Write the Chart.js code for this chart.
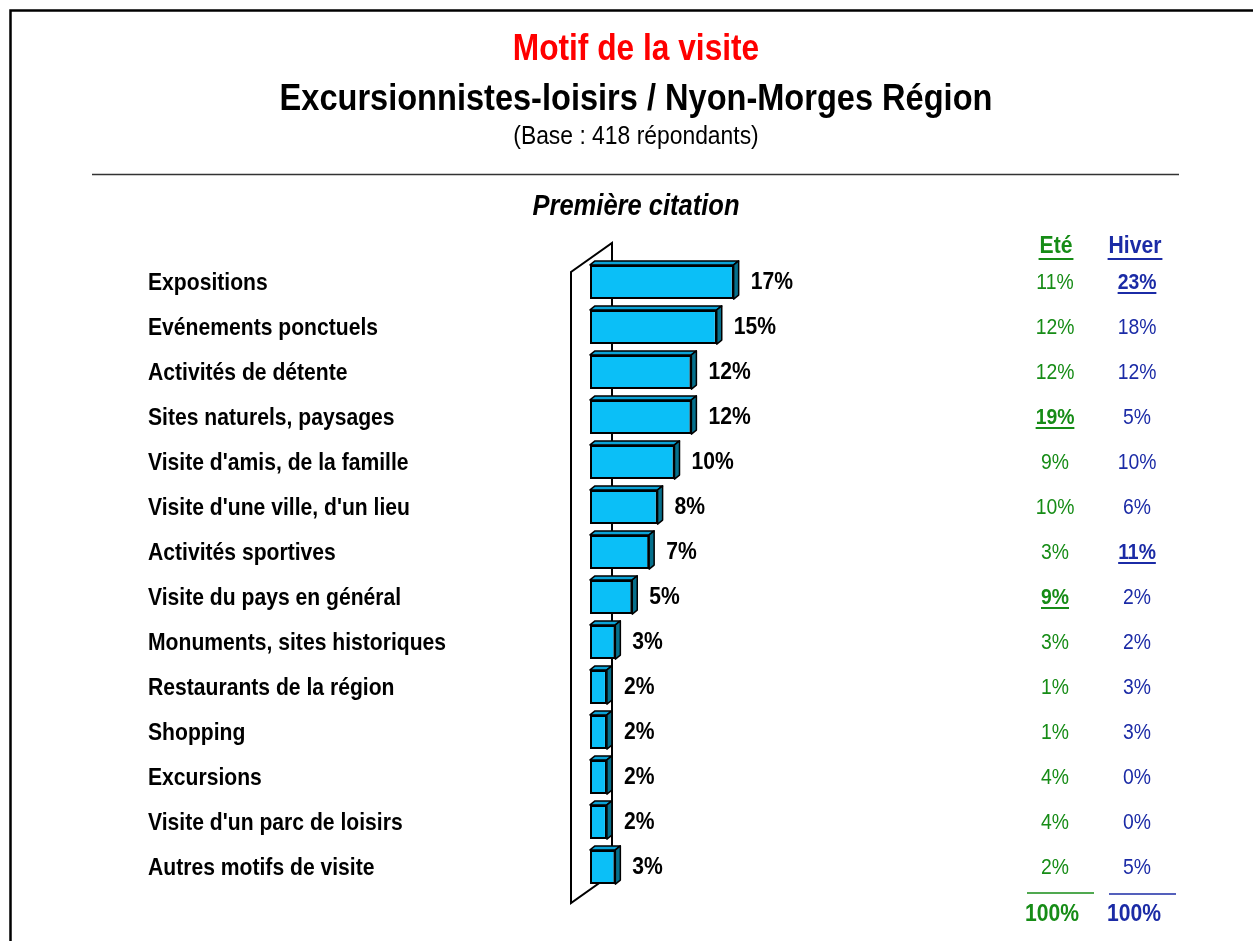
<!DOCTYPE html>
<html lang="fr">
<head>
<meta charset="utf-8">
<title>Motif de la visite</title>
<script src="https://cdn.jsdelivr.net/npm/chart.js@4/dist/chart.umd.min.js"></script>
<style>
  html, body { margin: 0; padding: 0; background: #fff; }
  #wrap { width: 1253px; height: 941px; }
</style>
</head>
<body>
<div id="wrap"><canvas id="motifChart" width="1253" height="941"></canvas></div>
<script>
// ---------------------
// DATA
// ---------------------
const motifs = [
  "Expositions",
  "Evénements ponctuels",
  "Activités de détente",
  "Sites naturels, paysages",
  "Visite d'amis, de la famille",
  "Visite d'une ville, d'un lieu",
  "Activités sportives",
  "Visite du pays en général",
  "Monuments, sites historiques",
  "Restaurants de la région",
  "Shopping",
  "Excursions",
  "Visite d'un parc de loisirs",
  "Autres motifs de visite",
];
const totalPct = [17, 15, 12, 12, 10, 8, 7, 5, 3, 2, 2, 2, 2, 3];
const etePct = [11, 12, 12, 19, 9, 10, 3, 9, 3, 1, 1, 4, 4, 2];
const hiverPct = [23, 18, 12, 5, 10, 6, 11, 2, 2, 3, 3, 0, 0, 5];
// significant differences, shown bold + underlined
const eteMarked = [false, false, false, true, false, false, false, true, false, false, false, false, false, false];
const hiverMarked = [true, false, false, false, false, false, true, false, false, false, false, false, false, false];
const columnTotals = ["100%", "100%"];

const GREEN = "#168c16";
const BLUE = "#1b2ba6";
const FONT = "'Liberation Sans', Arial, sans-serif";
const NARROW = 0.88; // horizontal squeeze for all texts

// draw a squeezed text, returns its drawn width
function drawText(ctx, str, x, y, font, color, align) {
  ctx.save();
  ctx.font = font;
  ctx.fillStyle = color;
  ctx.textBaseline = "middle";
  ctx.textAlign = align || "left";
  ctx.translate(x, y);
  ctx.scale(NARROW, 1);
  ctx.fillText(str, 0, 0);
  const w = ctx.measureText(str).width * NARROW;
  ctx.restore();
  return w;
}

function underline(ctx, cx, y, w, color) {
  ctx.save();
  ctx.strokeStyle = color;
  ctx.lineWidth = 2;
  ctx.beginPath();
  ctx.moveTo(cx - w / 2, y);
  ctx.lineTo(cx + w / 2, y);
  ctx.stroke();
  ctx.restore();
}

// ---------------------
// HEADER, FRAME, SIDE COLUMNS
// ---------------------
const decorPlugin = {
  id: "decor",
  beforeDraw(chart) {
    const ctx = chart.ctx;
    ctx.save();
    ctx.fillStyle = "#fff";
    ctx.fillRect(0, 0, chart.width, chart.height);

    // outer frame (top + left edges)
    ctx.strokeStyle = "#000";
    ctx.lineWidth = 2.5;
    ctx.beginPath();
    ctx.moveTo(10.5, chart.height);
    ctx.lineTo(10.5, 10.5);
    ctx.lineTo(chart.width, 10.5);
    ctx.stroke();

    // separator under the header
    ctx.strokeStyle = "#333";
    ctx.lineWidth = 1.5;
    ctx.beginPath();
    ctx.moveTo(92, 174.5);
    ctx.lineTo(1179, 174.5);
    ctx.stroke();
    ctx.restore();

    drawText(ctx, "Motif de la visite", 636, 50, "bold 36px " + FONT, "#ff0000", "center");
    drawText(ctx, "Excursionnistes-loisirs / Nyon-Morges Région", 636, 100, "bold 37px " + FONT, "#000", "center");
    drawText(ctx, "(Base : 418 répondants)", 636, 137, "26px " + FONT, "#000", "center");
    drawText(ctx, "Première citation", 636, 207, "italic bold 29px " + FONT, "#000", "center");
  },

  // the slanted back wall behind the bars
  beforeDatasetsDraw(chart) {
    const ctx = chart.ctx;
    const area = chart.chartArea;
    const x0 = chart.scales.x.getPixelForValue(0);
    const front = x0 - 19;
    const back = x0 + 22;
    ctx.save();
    ctx.strokeStyle = "#000";
    ctx.lineWidth = 2;
    ctx.lineJoin = "miter";
    ctx.beginPath();
    ctx.moveTo(back, area.bottom - 15.5);
    ctx.lineTo(back, area.top - 16.5);
    ctx.lineTo(front, area.top + 12.5);
    ctx.lineTo(front, area.bottom + 13.5);
    ctx.closePath();
    ctx.stroke();
    ctx.restore();
  },

  // 3D faces of the bars, value labels and the Eté / Hiver columns
  afterDatasetsDraw(chart) {
    const ctx = chart.ctx;
    const meta = chart.getDatasetMeta(0);
    const yScale = chart.scales.y;
    const dx = 5;
    const dy = -4;

    meta.data.forEach((bar, i) => {
      const { x, y, base, height } = bar.getProps(["x", "y", "base", "height"], true);
      const top = y - height / 2;
      const bottom = y + height / 2;
      ctx.save();
      ctx.strokeStyle = "#000";
      ctx.lineWidth = 1.5;
      ctx.lineJoin = "round";
      // top face
      ctx.fillStyle = "#0aa4d8";
      ctx.beginPath();
      ctx.moveTo(base, top);
      ctx.lineTo(base + dx, top + dy);
      ctx.lineTo(x + dx, top + dy);
      ctx.lineTo(x, top);
      ctx.closePath();
      ctx.fill();
      ctx.stroke();
      // side face
      ctx.fillStyle = "#06708c";
      ctx.beginPath();
      ctx.moveTo(x, top);
      ctx.lineTo(x + dx, top + dy);
      ctx.lineTo(x + dx, bottom + dy);
      ctx.lineTo(x, bottom);
      ctx.closePath();
      ctx.fill();
      ctx.stroke();
      ctx.restore();

      drawText(ctx, totalPct[i] + "%", x + 17, y, "bold 24px " + FONT, "#000", "left");
    });

    // category names on the left
    motifs.forEach((name, i) => {
      const y = yScale.getPixelForValue(i) + 1.5;
      drawText(ctx, name, 148, y, "bold 24px " + FONT, "#000", "left");
    });

    // season columns
    const eteX = 1055;
    const hiverX = 1137;
    let w = drawText(ctx, "Eté", 1056, 246, "bold 24px " + FONT, GREEN, "center");
    underline(ctx, 1056, 259, w + 2, GREEN);
    w = drawText(ctx, "Hiver", 1135, 246, "bold 24px " + FONT, BLUE, "center");
    underline(ctx, 1135, 259, w + 2, BLUE);

    motifs.forEach((_, i) => {
      const y = yScale.getPixelForValue(i) + 1;
      const eFont = (eteMarked[i] ? "bold " : "") + "22px " + FONT;
      const hFont = (hiverMarked[i] ? "bold " : "") + "22px " + FONT;
      let tw = drawText(ctx, etePct[i] + "%", eteX, y, eFont, GREEN, "center");
      if (eteMarked[i]) underline(ctx, eteX, y + 10, tw, GREEN);
      tw = drawText(ctx, hiverPct[i] + "%", hiverX, y, hFont, BLUE, "center");
      if (hiverMarked[i]) underline(ctx, hiverX, y + 10, tw, BLUE);
    });

    // totals
    ctx.save();
    ctx.lineWidth = 1.5;
    ctx.strokeStyle = GREEN;
    ctx.beginPath();
    ctx.moveTo(1027, 893);
    ctx.lineTo(1094, 893);
    ctx.stroke();
    ctx.strokeStyle = BLUE;
    ctx.beginPath();
    ctx.moveTo(1109, 894);
    ctx.lineTo(1176, 894);
    ctx.stroke();
    ctx.restore();
    drawText(ctx, columnTotals[0], 1052, 914, "bold 24px " + FONT, GREEN, "center");
    drawText(ctx, columnTotals[1], 1134, 914, "bold 24px " + FONT, BLUE, "center");
  },
};

// ---------------------
// CHART
// ---------------------
new Chart(document.getElementById("motifChart"), {
  type: "bar",
  data: {
    labels: motifs,
    datasets: [
      {
        label: "Première citation",
        data: totalPct,
        backgroundColor: "#0bbff7",
        borderColor: "#000",
        borderWidth: 2,
        borderSkipped: false,
        categoryPercentage: 1,
        barPercentage: 0.76,
      },
    ],
  },
  options: {
    responsive: false,
    animation: false,
    indexAxis: "y",
    layout: { padding: { left: 590, right: 240.5, top: 259.5, bottom: 51.5 } },
    plugins: {
      legend: { display: false },
      tooltip: { enabled: false },
    },
    scales: {
      x: { display: false, min: 0, max: 50 },
      y: { display: false },
    },
  },
  plugins: [decorPlugin],
});
</script>
</body>
</html>
